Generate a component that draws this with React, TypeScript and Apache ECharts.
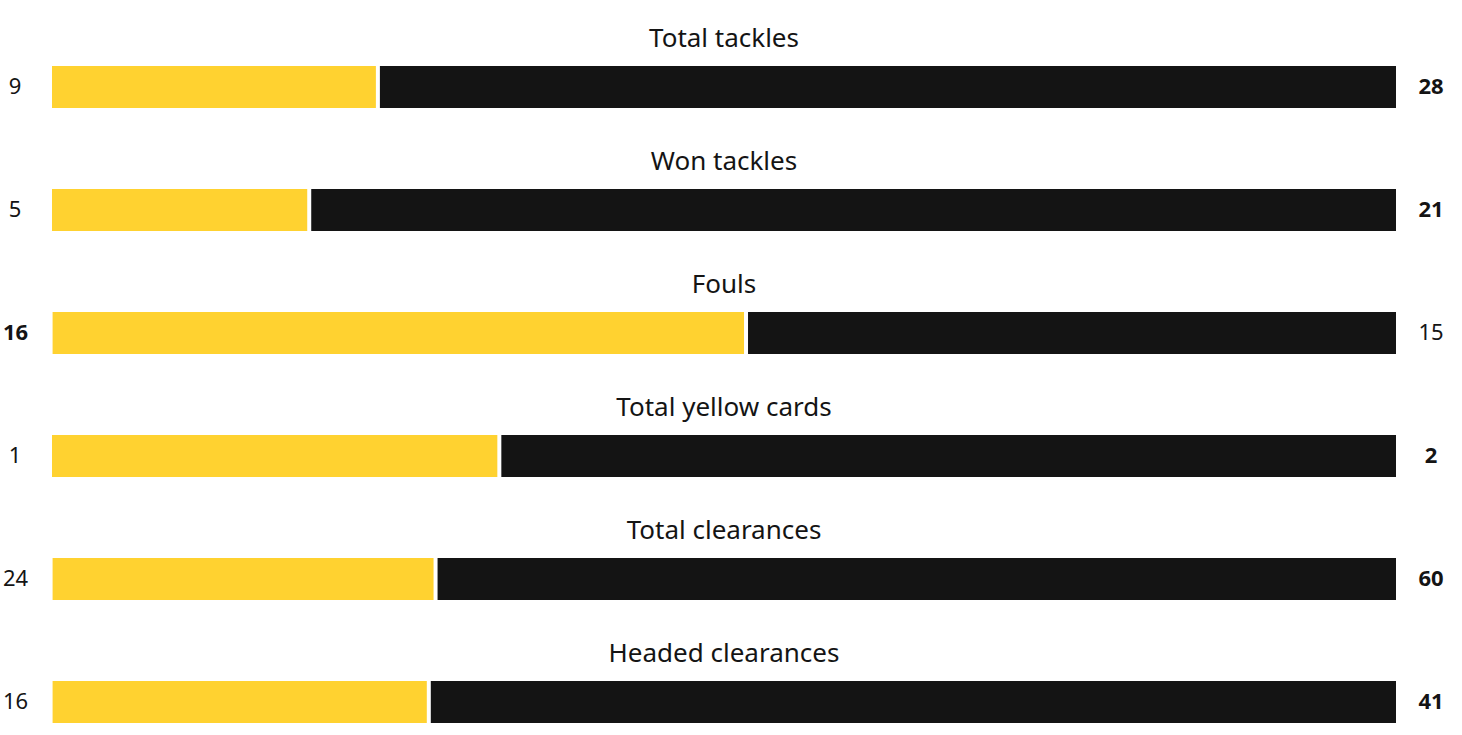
import React, { useEffect, useRef } from "react";
import * as echarts from "echarts";

const categories = [
  "Total tackles",
  "Won tackles",
  "Fouls",
  "Total yellow cards",
  "Total clearances",
  "Headed clearances",
];
const homeValues = [9, 5, 16, 1, 24, 16];
const awayValues = [28, 21, 15, 2, 60, 41];

const YELLOW = "#FFD230";
const BLACK = "#141414";
const TEXT = "#141414";
const FONT = "Noto Sans";

export default function App() {
  const ref = useRef<HTMLDivElement>(null);
  useEffect(() => {
    document.body.style.margin = "0";
    if (!ref.current) return;
    const chart = echarts.init(ref.current, undefined, { renderer: "svg" });
    const rowStep = 123;
    const barTop = 64;
    const grids: any[] = [];
    const xAxes: any[] = [];
    const yAxes: any[] = [];
    const series: any[] = [];
    const graphics: any[] = [];
    categories.forEach((cat, i) => {
      const h = homeValues[i];
      const a = awayValues[i];
      const total = h + a;
      grids.push({ left: 50, width: 1348, top: barTop + rowStep * i, height: 46 });
      xAxes.push({ gridIndex: i, type: "value", min: 0, max: 1, show: false });
      const lbl = (v: number, other: number) => (v > other ? `{b|${v}}` : `{n|${v}}`);
      const rich = {
        b: { fontFamily: FONT, fontSize: 22, fontWeight: "bold", color: TEXT, padding: [0, 0, 4, 0] },
        n: { fontFamily: FONT, fontSize: 22, fontWeight: "normal", color: TEXT, padding: [0, 0, 4, 0] },
      };
      yAxes.push({
        gridIndex: i,
        type: "category",
        data: [cat],
        position: "left",
        axisLine: { show: false },
        axisTick: { show: false },
        axisLabel: { formatter: () => lbl(h, a), align: "center", margin: 35, rich },
      });
      yAxes.push({
        gridIndex: i,
        type: "category",
        data: [cat],
        position: "right",
        axisLine: { show: false },
        axisTick: { show: false },
        axisLabel: { formatter: () => lbl(a, h), align: "center", margin: 33, rich },
      });
      series.push({
        type: "bar",
        xAxisIndex: i,
        yAxisIndex: i * 2,
        stack: "s" + i,
        barWidth: 46,
        data: [h / total],
        itemStyle: { color: YELLOW, borderColor: "#ffffff", borderWidth: 2 },
        silent: true,
      });
      series.push({
        type: "bar",
        xAxisIndex: i,
        yAxisIndex: i * 2,
        stack: "s" + i,
        barWidth: 46,
        data: [a / total],
        itemStyle: { color: BLACK, borderColor: "#ffffff", borderWidth: 2 },
        silent: true,
      });
      graphics.push({
        type: "text",
        x: 724,
        y: 37 + rowStep * i,
        style: {
          text: cat,
          fontFamily: FONT,
          fontSize: 26,
          fill: TEXT,
          textAlign: "center",
          textVerticalAlign: "middle",
        },
      });
    });
    chart.setOption({
      animation: false,
      backgroundColor: "#ffffff",
      grid: grids,
      xAxis: xAxes,
      yAxis: yAxes,
      series,
      graphic: graphics,
    });
    return () => chart.dispose();
  }, []);
  return <div ref={ref} style={{ width: 1462, height: 735 }} />;
}
